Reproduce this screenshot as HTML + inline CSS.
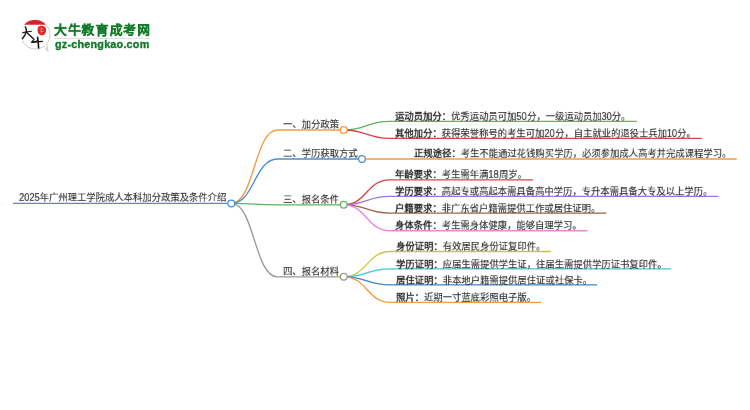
<!DOCTYPE html>
<html lang="zh-CN"><head><meta charset="utf-8"><style>
html,body{margin:0;padding:0;background:#fff;width:750px;height:410px;overflow:hidden}
body{position:relative;font-family:"Liberation Sans",sans-serif}
.t{position:absolute;white-space:nowrap;font-size:14px;line-height:18px;color:#333;-webkit-text-stroke:0.2px #333;transform:scale(0.666667);transform-origin:0 0;will-change:transform}
.t b{font-weight:bold;color:#2a2a2a;-webkit-text-stroke:0}
.d{display:inline-block;transform:translateY(0.6px) scaleY(1.13);transform-origin:0 13.85px}
svg{position:absolute;left:0;top:0}
</style></head><body>
<svg width="750" height="410" viewBox="0 0 750 410" fill="none" stroke-width="1.35">
<path d="M13 203.4 H227.9" stroke="#4a8fcf"/>
<path d="M231.30 203.4 C254.40 203.4 254.40 130 277.50 130 H343.7" stroke="#f79a3e"/>
<path d="M231.30 203.4 C254.40 203.4 254.40 159 277.50 159 H362" stroke="#4a8fcf"/>
<path d="M231.30 203.4 C254.40 203.4 254.40 204.8 277.50 204.8 H343.7" stroke="#5bb55b"/>
<path d="M231.30 203.4 C254.40 203.4 254.40 276.8 277.50 276.8 H343.7" stroke="#999999"/>
<path d="M343.7 130 C366.55 130 366.55 121.3 389.40 121.3 H636.8" stroke="#5bb55b"/>
<path d="M343.7 130 C366.55 130 366.55 138.4 389.40 138.4 H701.9" stroke="#d9434a"/>
<path d="M362 159 H736.8" stroke="#f79a3e"/>
<path d="M343.7 204.8 C366.65 204.8 366.65 179.8 389.60 179.8 H533" stroke="#d9434a"/>
<path d="M343.7 204.8 C366.65 204.8 366.65 196.4 389.60 196.4 H718.4" stroke="#a173d6"/>
<path d="M343.7 204.8 C366.65 204.8 366.65 213.1 389.60 213.1 H606.3" stroke="#9c6350"/>
<path d="M343.7 204.8 C366.65 204.8 366.65 230.7 389.60 230.7 H587.6" stroke="#ea88dc"/>
<path d="M343.7 276.8 C366.95 276.8 366.95 251.5 390.20 251.5 H550.7" stroke="#c6c83e"/>
<path d="M343.7 276.8 C366.95 276.8 366.95 268.8 390.20 268.8 H671.2" stroke="#3cc6dc"/>
<path d="M343.7 276.8 C366.95 276.8 366.95 284.9 390.20 284.9 H597.1" stroke="#3d86cc"/>
<path d="M343.7 276.8 C366.95 276.8 366.95 302.3 390.20 302.3 H541.2" stroke="#f79a3e"/>
<g fill="#fff" stroke-width="1.25">
<circle cx="231.3" cy="203.4" r="3.4" stroke="#4a8fcf"/>
<circle cx="343.7" cy="130" r="3.4" stroke="#f79a3e"/>
<circle cx="362" cy="159" r="3.4" stroke="#4a8fcf"/>
<circle cx="343.7" cy="204.8" r="3.4" stroke="#5bb55b"/>
<circle cx="343.7" cy="276.8" r="3.4" stroke="#999999"/>
</g>
</svg>
<div class="t" style="left:18.6px;top:190.6px"><span class="d">2025</span>年广州理工学院成人本科加分政策及条件介绍</div>
<div class="t" style="left:283px;top:117.5px">一、加分政策</div>
<div class="t" style="left:283px;top:147.3px">二、学历获取方式</div>
<div class="t" style="left:283px;top:192.8px">三、报名条件</div>
<div class="t" style="left:283px;top:265.0px">四、报名材料</div>
<div class="t" style="left:394.8px;top:109.7px"><b>运动员加分：</b>优秀运动员可加<span class="d">50</span>分，一级运动员加<span class="d">30</span>分。</div>
<div class="t" style="left:394.8px;top:126.80000000000001px"><b>其他加分：</b>获得荣誉称号的考生可加<span class="d">20</span>分，自主就业的退役士兵加<span class="d">10</span>分。</div>
<div class="t" style="left:414.2px;top:147.4px"><b>正规途径：</b>考生不能通过花钱购买学历，必须参加成人高考并完成课程学习。</div>
<div class="t" style="left:395px;top:168.20000000000002px"><b>年龄要求：</b>考生需年满<span class="d">18</span>周岁。</div>
<div class="t" style="left:395px;top:184.8px"><b>学历要求：</b>高起专或高起本需具备高中学历，专升本需具备大专及以上学历。</div>
<div class="t" style="left:395px;top:201.5px"><b>户籍要求：</b>非广东省户籍需提供工作或居住证明。</div>
<div class="t" style="left:395px;top:219.1px"><b>身体条件：</b>考生需身体健康，能够自理学习。</div>
<div class="t" style="left:395.6px;top:240.3px"><b>身份证明：</b>有效居民身份证复印件。</div>
<div class="t" style="left:395.6px;top:257.59999999999997px"><b>学历证明：</b>应届生需提供学生证，往届生需提供学历证书复印件。</div>
<div class="t" style="left:395.6px;top:273.69999999999993px"><b>居住证明：</b>非本地户籍需提供居住证或社保卡。</div>
<div class="t" style="left:395.6px;top:291.09999999999997px"><b>照片：</b>近期一寸蓝底彩照电子版。</div>

<svg style="position:absolute;left:0;top:0" width="160" height="60" viewBox="0 0 160 60">
<path d="M35.5 20.2 A14.3 14.3 0 1 0 43.8 46.3 L48 51.6 L46.6 44.2 A14.3 14.3 0 0 0 35.5 20.2 Z" fill="#fff" stroke="#e4e4e4" stroke-width="0.6"/>
<path d="M46 24.8 A14.3 14.3 0 0 1 46.6 44.2 L48 51.6 L43.8 46.3 A14.3 14.3 0 0 1 22.4 41" fill="none" stroke="#c8c8c8" stroke-width="0.8"/>
<path d="M24.2 24.8 C27 21 31 19.9 35 19.9 C39 19.9 43 21 45.8 24.8 Z" fill="#d82426"/>
<path d="M38.6 26.4 C40.8 25 45 25.4 45.9 28.4 C46.6 31.6 45.4 35.2 41.8 35.2 C38.4 35.2 37.3 31.8 37.6 29.4 C37.7 28 38 27 38.6 26.4 Z" fill="#e3262a"/>
<path d="M39.6 28.8 h3.6 M40 31.4 h3.8 M41.4 27.4 v6" stroke="#f5b8b8" stroke-width="0.5"/>
<g stroke="#141414" fill="none" stroke-linecap="round" stroke-linejoin="round">
<path d="M25.4 27 C26.2 28.5 26.7 30 26.4 31.6 C25.6 34.2 24.2 36.6 22.5 38.6" stroke-width="1.5"/>
<path d="M22.6 32.7 C25.6 32.2 28.6 31.6 31.5 31.2" stroke-width="1.1"/>
<path d="M27.1 32.7 C29.2 34.6 31.2 36.6 33.1 38.6" stroke-width="1.4"/>
<path d="M34.2 39.1 L31.6 42.3 L38 40.9" stroke-width="1.1"/>
<path d="M31.6 42.4 C35.3 42 38.8 41.5 42.4 41.3" stroke-width="1.2"/>
<path d="M37.6 37.4 C38 40.8 38.5 44.5 38.6 47.9" stroke-width="1.6"/>
</g>
</svg>
<div style="position:absolute;left:54.3px;top:24.1px;font-size:20px;line-height:20px;font-weight:bold;color:#127a28;letter-spacing:1.7px;-webkit-text-stroke:0.55px #127a28;transform:scale(0.64);transform-origin:0 0;will-change:transform;white-space:nowrap">大牛教育成考网</div>
<div style="position:absolute;left:54px;top:38.3px;width:96px;height:1.2px;background:#d9e5dc"></div>
<div style="position:absolute;left:55px;top:39px;font-size:10px;line-height:11px;font-weight:bold;color:#127a28;letter-spacing:0.2px;-webkit-text-stroke:0.35px #127a28;transform:scaleX(1.08);transform-origin:0 0;will-change:transform;white-space:nowrap">gz-chengkao.com</div>
</body></html>
